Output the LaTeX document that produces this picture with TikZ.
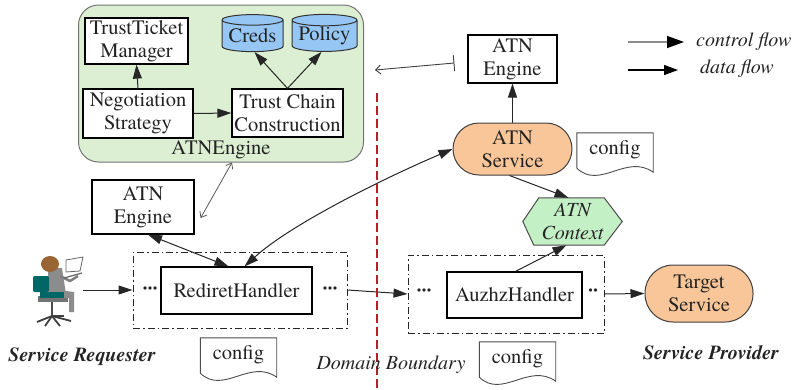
\documentclass[tikz,border=0pt]{standalone}
\usepackage{fontspec}
\setmainfont{texgyretermes}[Extension=.otf, UprightFont=*-regular, BoldFont=*-bold,
  ItalicFont=*-italic, BoldItalicFont=*-bolditalic]
\usetikzlibrary{arrows.meta,shapes.geometric,calc,backgrounds}

\definecolor{enginegreen}{RGB}{220,239,210}
\definecolor{storeblue}{RGB}{150,198,243}
\definecolor{svcorange}{RGB}{248,198,152}
\definecolor{ctxgreen}{RGB}{196,240,198}
\definecolor{domainred}{RGB}{180,30,45}
\definecolor{inkgray}{RGB}{35,35,35}

% document symbol with a wavy lower edge, drawn around a named node
\newcommand\paperdoc[1]{%
  \draw[docline] ([yshift=-1pt]#1.south west) -- (#1.north west) -- (#1.north east)
    -- ([yshift=-5pt]#1.south east)
    .. controls ($(#1.south west)!0.65!(#1.south east)+(0pt,14pt)$)
       and ($(#1.south west)!0.3!(#1.south east)+(0pt,-23pt)$)
    .. ([yshift=-1pt]#1.south west);}

\begin{document}
\begin{tikzpicture}[x=1pt,y=-1pt,
  font=\fontsize{20.5}{23}\selectfont,
  every node/.append style={text=inkgray},
  box/.style={draw=black, line width=1.2pt, fill=white, inner sep=0pt, align=center},
  grp/.style={draw=black!85, line width=1pt, dash pattern=on 7pt off 3pt on 1.5pt off 3pt, inner sep=0pt},
  stadium/.style={draw=black!75, line width=1pt, fill=svcorange, inner sep=0pt, align=center},
  store/.style={cylinder, shape border rotate=90, aspect=0.22, draw=black!80, line width=1pt, fill=storeblue, inner sep=0pt},
  doc/.style={inner sep=0pt, minimum width=76pt, minimum height=34pt},
  docline/.style={draw=black!70, line width=0.9pt},
  tip/.tip={Triangle[length=14pt,width=9pt]},
  flow/.style={-tip, line width=1pt, draw=black!85},
  dflow/.style={tip-tip, line width=1pt, draw=black!85},
  link/.style={{Straight Barb[length=5pt,width=8pt]}-{Straight Barb[length=5pt,width=8pt]}, line width=0.8pt, draw=black!65},
  dots/.style={font=\fontsize{20}{20}\selectfont\bfseries, inner sep=0pt},
  caption/.style={font=\fontsize{20}{22}\selectfont\bfseries\itshape},
]
\useasboundingbox (0,0) rectangle (802,389);

% ---- negotiation engine of the requester side ----
\node[draw=black!55, line width=1pt, fill=enginegreen, rounded corners=20pt,
      minimum width=285pt, minimum height=157pt, inner sep=0pt] (atn) at (221,83.5) {};
\node (atnlabel) at (221,150) {ATNEngine};
\node[box, minimum width=103pt, minimum height=46pt] (ttm) at (136.5,41) {TrustTicket\\Manager};
\node[box, minimum width=110pt, minimum height=49pt] (neg) at (138,113.5) {Negotiation\\Strategy};
\node[box, minimum width=111pt, minimum height=48pt] (tcc) at (287.5,113) {Trust Chain\\Construction};
\node[store, minimum width=61pt, minimum height=37pt] (creds) at (252.5,36) {Creds};
\node[store, minimum width=65pt, minimum height=37pt] (policy) at (324.5,36) {Policy};

\draw[flow] (neg.north) -- (ttm.south);
\draw[flow] (neg.east) -- (tcc.west);
\draw[flow] (tcc.north) -- ([xshift=2pt]creds.south);
\draw[flow] (tcc.north) -- ([xshift=-3pt]policy.south);

% ---- provider side engine and service ----
\node[box, minimum width=89pt, minimum height=48pt] (engT) at (512.5,59) {ATN\\Engine};
\node[stadium, rounded corners=26pt, minimum width=119pt, minimum height=52pt] (svc) at (512.5,149) {ATN\\Service};
\node[doc] (cfgA) at (615,150) {config};
\paperdoc{cfgA}

\node[inner sep=0pt, minimum width=99pt, minimum height=47pt, align=center,
      font=\fontsize{20}{23}\selectfont\itshape] (ctx) at (572.5,221.5) {ATN\\Context};
\begin{scope}[on background layer]
  \draw[draw=black!70, line width=1pt, fill=ctxgreen]
    (ctx.west) -- ([xshift=16pt]ctx.north west) -- ([xshift=-18pt]ctx.north east)
    -- (ctx.east) -- ([xshift=-18pt]ctx.south east) -- ([xshift=11pt]ctx.south west) -- cycle;
\end{scope}

\node[grp, minimum width=196pt, minimum height=78pt] (rbox) at (506,294) {};
\node[box, minimum width=135pt, minimum height=46pt] (auz) at (514.5,295) {AuzhzHandler};
\node[dots] (rdl) at (424,292) {···};
\node[dots] (rdr) at (593,292) {··};
\node[stadium, rounded corners=28pt, minimum width=108pt, minimum height=57pt] (tgt) at (699,293.5) {Target\\Service};
\node[doc] (cfgC) at (517.5,359) {config};
\paperdoc{cfgC}

% ---- requester side ----
\node[box, minimum width=102pt, minimum height=54pt] (engL) at (143,207) {ATN\\Engine};
\node[grp, minimum width=214pt, minimum height=76pt] (lbox) at (240,290) {};
\node[box, minimum width=151pt, minimum height=47pt] (rh) at (236.5,290.5) {RediretHandler};
\node[dots] (ldl) at (150,290) {···};
\node[dots] (ldr) at (330,290) {···};
\node[doc] (cfgB) at (238.5,355) {config};
\paperdoc{cfgB}

% user at a workstation
\node[inner sep=0pt, minimum width=50pt, minimum height=68pt] (user) at (58,290) {};
\begin{scope}[line join=round]
  \draw[black!70, line width=1.6pt] (52,300) -- (52,316);
  \foreach \fx/\fy in {37/322, 45/326, 60/326, 71/321, 64/316}
    \draw[black!75, line width=1.8pt] (52,316) -- (\fx,\fy);
  \fill[black!55] (38,296) rectangle (68,302);
  \fill[black!45] (48,268) -- (62,268) -- (66,294) -- (48,296) -- cycle;
  \fill[black!45] (58,290) -- (74,292) -- (74,312) -- (69,312) -- (69,298) -- (56,298) -- cycle;
  \draw[black!50, line width=2.5pt] (60,276) -- (70,281) -- (78,276);
  \fill[teal!80!black, rounded corners=2pt] (33,276) rectangle (49,292);
  \fill[teal!80!black] (40,292) rectangle (64,298);
  \fill[brown!80!black] (50,264) ellipse [x radius=9pt, y radius=8pt];
  \draw[black!60, fill=white, line width=0.8pt] (66,260) -- (83,257) -- (80,271) -- (66,272) -- cycle;
  \draw[black!60, line width=1.2pt] (64,278) -- (82,273);
\end{scope}

% ---- connectors ----
\draw[flow] (user.east) -- (lbox.west);
\draw[flow] (lbox.east) -- (rbox.west);
\draw[flow] (rbox.east) -- (tgt.west);
\draw[flow] (svc.north) -- (engT.south);
\draw[flow] ([xshift=-3pt]svc.south) -- ([xshift=-4pt]ctx.north);
\draw[flow] ([xshift=1pt]auz.north) -- ([xshift=-6pt]ctx.south);
\draw[dflow] ([xshift=5pt]engL.south) -- ([xshift=-8pt]rh.north);
\draw[dflow] ([xshift=8pt]rh.north) .. controls (290,225) and (380,180) .. (svc.west);
\draw[link] ([xshift=11pt]atn.south) -- ([shift={(6pt,-11pt)}]engL.east);

\coordinate (tbl) at (375,70);
\draw[{Straight Barb[length=5pt,width=9pt]}-{Bar[width=16pt]}, line width=0.9pt, draw=black!75]
  (tbl) -- ([shift={(-13pt,-4pt)}]engT.west);

% domain boundary
\coordinate (db1) at (377,93);
\coordinate (db2) at (377,389);
\draw[domainred, line width=1.3pt, dash pattern=on 9pt off 4pt] (db1) -- (db2);

% ---- captions ----
\node[caption] (req) at (82,357) {Service Requester};
\node[caption] (prov) at (711,353) {Service Provider};
\node[font=\fontsize{20}{22}\selectfont\itshape] (dom) at (391,365) {Domain Boundary};

% ---- legend ----
\coordinate (cf1) at (628,42);
\coordinate (cf2) at (684,42);
\coordinate (df1) at (628,70);
\coordinate (df2) at (678,70);
\draw[line width=1.4pt, draw=black!45, -{Triangle[length=17pt,width=12pt,color=black]}] (cf1) -- (cf2);
\draw[line width=1.3pt, draw=black, -{Triangle[length=14pt,width=10pt]}] (df1) -- (df2);
\node[anchor=west, font=\fontsize{20}{22}\selectfont\itshape, inner sep=0pt] (cft) at (696,42) {control flow};
\node[anchor=west, font=\fontsize{20}{22}\selectfont\itshape, inner sep=0pt] (dft) at (700,69) {data flow};
\end{tikzpicture}
\end{document}
